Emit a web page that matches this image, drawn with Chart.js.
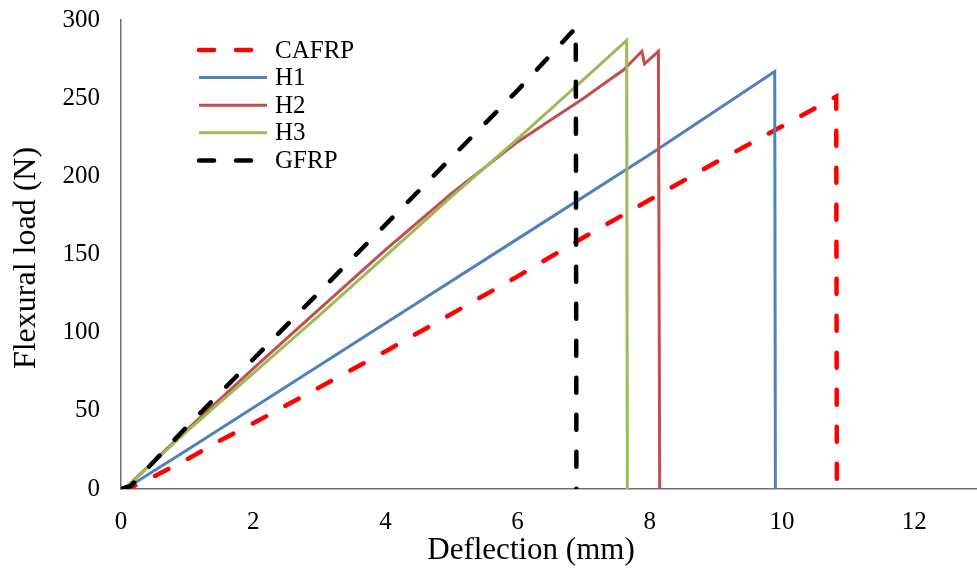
<!DOCTYPE html>
<html>
<head>
<meta charset="utf-8">
<script src="https://cdn.jsdelivr.net/npm/chart.js@4.4.1/dist/chart.umd.min.js"></script>
<style>
  html, body { margin: 0; padding: 0; background: #fff; }
  #wrap { width: 977px; height: 575px; }
</style>
</head>
<body>
<div id="wrap"><canvas id="flexChart" width="977" height="575"></canvas></div>
<script>
// values (deflection in mm, load in N)
const seriesNames = ['CAFRP', 'H1', 'H2', 'H3', 'GFRP'];
const xTicks = [0, 2, 4, 6, 8, 10, 12];
const yTicks = [0, 50, 100, 150, 200, 250, 300];

const cafrpX = [0, 0.1, 0.5, 1, 1.5, 2, 3, 4, 5, 6, 7, 8, 9, 10, 10.82, 10.83];
const cafrpY = [0, 0, 8, 19, 31, 42, 65, 88, 112, 136, 161, 185, 209, 232, 251, 0];

const h1X = [0, 0.1, 1, 2, 4, 6, 8, 9.89, 9.9];
const h1Y = [0, 1, 25, 52, 106, 160, 214, 267, 0];

const h2X = [0, 0.1, 1, 2, 3, 4, 5, 6, 6.5, 7, 7.3, 7.6, 7.88, 7.92, 8.13, 8.15];
const h2Y = [0, 2, 38, 77, 115, 153, 189, 222, 236, 250, 259, 268, 280, 272, 280, 0];

const h3X = [0, 0.1, 1, 2, 3, 4, 5, 6, 7, 7.65, 7.66];
const h3Y = [0, 2, 37, 74, 111, 149, 187, 224, 262, 287, 0];

const gfrpX = [0, 0.15, 1, 2, 3, 4, 5, 6, 6.88, 6.89];
const gfrpY = [0, 2, 40, 83, 126, 169, 212, 255, 295, 0];

const colors = ['#ff0000', '#4f81bd', '#c0504d', '#9bbb59', '#000000'];
const dashes = [[15, 22], [], [], [], [15, 22]];
const widths = [4.5, 3, 3, 3, 4.5];

const FONT = '"Liberation Serif", "Times New Roman", serif';

const toPoints = (xs, ys) => xs.map((x, i) => ({ x: x, y: ys[i] }));
const allX = [cafrpX, h1X, h2X, h3X, gfrpX];
const allY = [cafrpY, h1Y, h2Y, h3Y, gfrpY];

const datasets = seriesNames.map((name, i) => ({
  label: name,
  data: toPoints(allX[i], allY[i]),
  borderColor: colors[i],
  borderWidth: widths[i],
  borderDash: dashes[i],
  borderCapStyle: dashes[i].length ? 'round' : 'butt',
  pointRadius: 0,
  fill: false,
  tension: 0,
  order: seriesNames.length - 1 - i
}));

// legend inside the plot, top left, plus the two axis titles
const insideLegend = {
  id: 'insideLegend',
  afterDraw(chart) {
    const ctx = chart.ctx;
    ctx.save();
    ctx.font = '25px ' + FONT;
    ctx.textBaseline = 'middle';
    ctx.fillStyle = '#000';
    seriesNames.forEach((name, i) => {
      const y = 50 + i * 27.6;
      ctx.beginPath();
      ctx.strokeStyle = colors[i];
      ctx.lineWidth = widths[i];
      ctx.setLineDash(dashes[i]);
      ctx.lineCap = dashes[i].length ? 'round' : 'butt';
      ctx.moveTo(199, y);
      ctx.lineTo(267, y);
      ctx.stroke();
      ctx.setLineDash([]);
      ctx.fillText(name, 275, y + 1);
    });

    // axis titles
    ctx.textAlign = 'center';
    ctx.font = '31px ' + FONT;
    ctx.fillText('Deflection (mm)', 531, 551);
    ctx.translate(27, 258);
    ctx.rotate(-Math.PI / 2);
    ctx.font = '32px ' + FONT;
    ctx.fillText('Flexural load (N)', 0, 0);
    ctx.restore();
  }
};

const noPad = s => {
  s.paddingTop = 0;
  s.paddingBottom = 0;
  s.paddingLeft = 0;
  s.paddingRight = 0;
};

const ctx = document.getElementById('flexChart').getContext('2d');
new Chart(ctx, {
  type: 'line',
  data: { datasets },
  options: {
    responsive: false,
    animation: false,
    layout: { padding: { top: 20, right: 0, left: 0, bottom: 0 } },
    plugins: { legend: { display: false }, tooltip: { enabled: false } },
    scales: {
      x: {
        type: 'linear',
        min: 0,
        max: 12.95,
        afterBuildTicks: s => { s.ticks = xTicks.map(v => ({ value: v })); },
        afterFit: s => { s.height = 86; noPad(s); },
        grid: { display: false, drawTicks: false },
        border: { display: true, color: '#707070', width: 1.5 },
        ticks: { font: { family: FONT, size: 25 }, color: '#000', padding: 18, maxRotation: 0 }
      },
      y: {
        min: 0,
        max: 300,
        afterBuildTicks: s => { s.ticks = yTicks.map(v => ({ value: v })); },
        afterFit: s => { s.width = 121; noPad(s); },
        grid: { display: false, drawTicks: false },
        border: { display: true, color: '#707070', width: 1.5 },
        ticks: { font: { family: FONT, size: 25 }, color: '#000', padding: 21 }
      }
    }
  },
  plugins: [insideLegend]
});
</script>
</body>
</html>
